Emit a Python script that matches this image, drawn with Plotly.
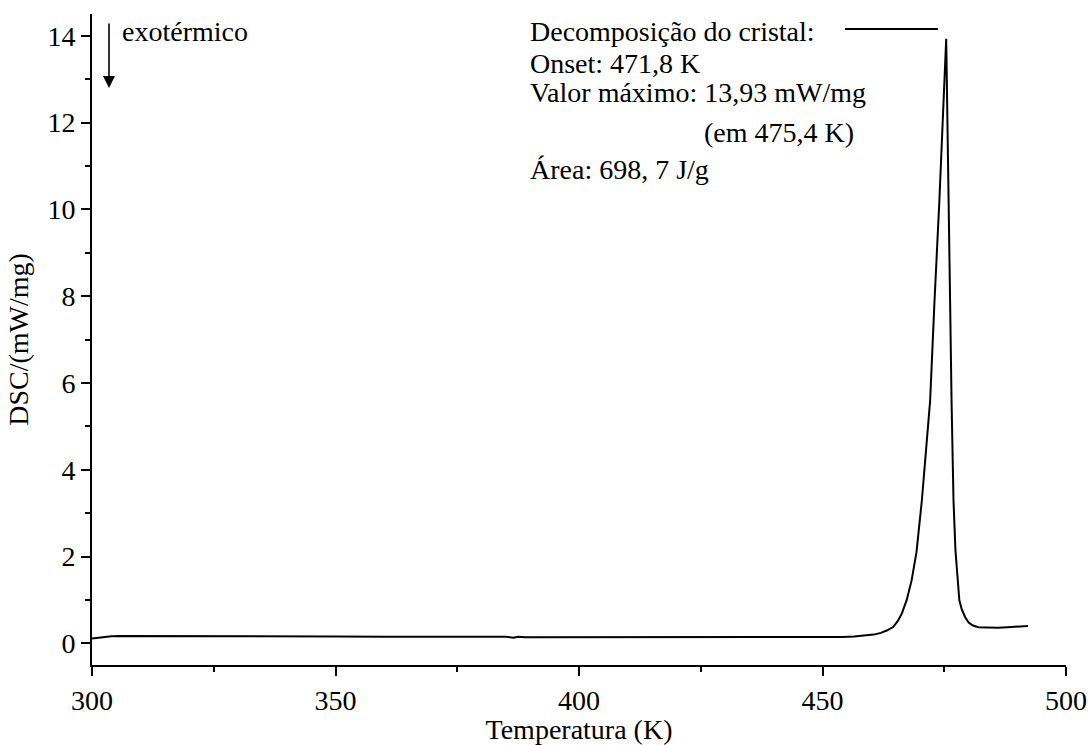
import plotly.graph_objects as go

# DSC curve of the crystal (temperature in K, heat flow in mW/mg)
temperatura = [300, 302, 304, 306, 310, 320, 330, 335, 337, 340, 350, 360, 370,
               380, 385, 386.5, 387.5, 389, 392, 400, 410, 420, 430, 440, 450,
               454, 456.5, 458.5, 460.5, 462, 463.3, 464.5, 465.5, 466.3, 467.3,
               468.3, 469.3, 470.4, 471.2, 472.1, 473.0, 474.0, 475.4, 475.8,
               476.2, 476.5, 476.9, 477.3, 477.7, 478.1, 478.6, 479.3, 480.0,
               480.9, 482.0, 483.8, 486, 488, 490, 492.2]
dsc = [0.11, 0.14, 0.16, 0.17, 0.17, 0.17, 0.17, 0.17, 0.155, 0.155, 0.155,
       0.15, 0.15, 0.15, 0.15, 0.13, 0.15, 0.14, 0.14, 0.14, 0.14, 0.135,
       0.135, 0.135, 0.14, 0.145, 0.155, 0.17, 0.20, 0.24, 0.30, 0.375, 0.52,
       0.69, 1.00, 1.45, 2.10, 3.29, 4.40, 5.59, 7.89, 10.2, 13.93, 10.2,
       7.89, 5.59, 3.29, 2.14, 1.50, 0.99, 0.78, 0.60, 0.48, 0.41, 0.37, 0.36,
       0.36, 0.37, 0.38, 0.40]

x_ticks = [300, 350, 400, 450, 500]
y_ticks = [0, 2, 4, 6, 8, 10, 12, 14]

info_lines = [
    "Decomposição do cristal:",
    "Onset: 471,8 K",
    "Valor máximo: 13,93 mW/mg",
    "(em 475,4 K)",
    "Área: 698, 7 J/g",
]

FONT = "Liberation Serif"
FS = 28

fig = go.Figure()
fig.add_trace(go.Scatter(
    x=temperatura, y=dsc, mode="lines",
    line=dict(color="black", width=2),
    showlegend=False, hoverinfo="skip",
))

axis_common = dict(
    showgrid=False, zeroline=False, showline=True, linecolor="black",
    linewidth=2, ticks="outside", ticklen=9, tickwidth=2, tickcolor="black",
    tickfont=dict(family=FONT, size=FS, color="black"),
    mirror=False, automargin=False,
)

fig.update_xaxes(
    range=[300, 500], tickvals=x_ticks,
    minor=dict(dtick=25, ticks="outside", ticklen=5, tickwidth=2, tickcolor="black"),
    title=dict(text="Temperatura (K)", font=dict(family=FONT, size=FS, color="black"),
               standoff=6),
    **axis_common,
)
fig.update_yaxes(
    range=[-0.5, 14.5], tickvals=y_ticks,
    minor=dict(dtick=1, ticks="outside", ticklen=5, tickwidth=2, tickcolor="black"),
    title=dict(text="DSC/(mW/mg)", font=dict(family=FONT, size=FS, color="black"),
               standoff=11),
    **axis_common,
)

# text block describing the decomposition event
line_y = [0.9724, 0.9247, 0.8787, 0.8187, 0.7604]
line_x = [0.4476, 0.4476, 0.4476, 0.6263, 0.4476]
for txt, xx, yy in zip(info_lines, line_x, line_y):
    fig.add_annotation(
        x=xx, y=yy, xref="paper", yref="paper", text=txt, showarrow=False,
        xanchor="left", yanchor="middle",
        font=dict(family=FONT, size=FS, color="black"),
    )

# sample line next to the description
fig.add_shape(type="line", xref="paper", yref="paper",
              x0=0.7731, x1=0.8686, y0=0.977, y1=0.977,
              line=dict(color="black", width=2))

# exothermic direction arrow
fig.add_annotation(
    x=0.01745, y=0.8863, xref="paper", yref="paper", text="",
    showarrow=True, ax=0, ay=-66, arrowhead=2, arrowsize=1.5,
    arrowwidth=1.6, arrowcolor="black",
)
fig.add_annotation(
    x=0.0287, y=0.9724, xref="paper", yref="paper", text="exotérmico",
    showarrow=False, xanchor="left", yanchor="middle",
    font=dict(family=FONT, size=FS, color="black"),
)

fig.update_layout(
    width=1088, height=745,
    margin=dict(l=92, r=22, t=14, b=80),
    plot_bgcolor="white", paper_bgcolor="white",
    font=dict(family=FONT, size=FS, color="black"),
)

fig.write_html("out.html")
